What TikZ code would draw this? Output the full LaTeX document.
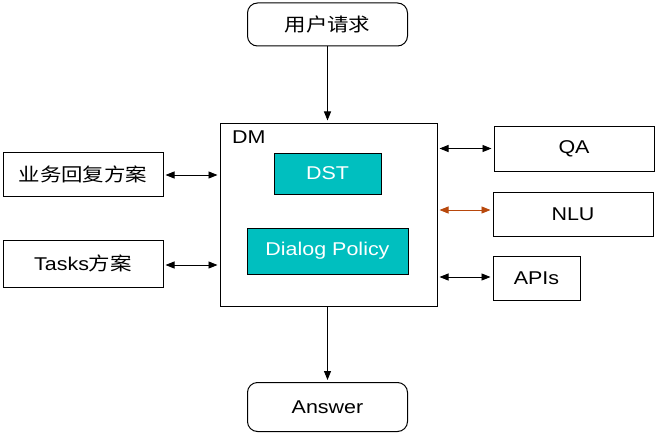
\documentclass[tikz,border=0pt]{standalone}
\usepackage{fontspec}
\usepackage{graphicx}
\setmainfont{Liberation Sans}
\newfontfamily\cjk{Noto Sans CJK SC}
\usetikzlibrary{arrows.meta}
\definecolor{teal1}{RGB}{0,191,191}
\definecolor{brownarr}{RGB}{184,72,12}
\newcommand{\wtxt}[1]{\scalebox{1.16}[1]{#1}}
\begin{document}
\begin{tikzpicture}[x=1pt,y=-1pt,
  every node/.style={font=\fontsize{18.5}{20}\selectfont},
  box/.style={draw,line width=1pt,inner sep=0pt,minimum width=#1},
  box/.default=160pt,
  rbox/.style={box,rounded corners=10pt},
  tbox/.style={draw,line width=1pt,fill=teal1,text=white,inner sep=0pt},
  tip/.style={Triangle[length=9pt,width=7pt]},
  conn/.style={line width=0.8pt,-{Triangle[length=9pt,width=7pt]}},
  biconn/.style={line width=0.8pt,{Triangle[length=9pt,width=7pt]}-{Triangle[length=9pt,width=7pt]},shorten <=2pt,shorten >=2pt}]
\useasboundingbox (0,0) rectangle (655,433);
\node[rbox,minimum height=43pt] (req) at (327.5,24.5) {\wtxt{\cjk 用户请求}};
\node[draw,line width=1pt,minimum width=217pt,minimum height=183pt,inner sep=0pt] (dm) at (328.5,214.5) {};
\node[anchor=north west,inner sep=0pt] (dml) at (232,131) {\wtxt{DM}};
\node[tbox,minimum width=107pt,minimum height=41pt] (dst) at (327.5,173.5) {\wtxt{DST}};
\node[tbox,minimum width=161pt,minimum height=46pt] (dp) at (327.5,251) {\wtxt{Dialog Policy}};
\node[box,minimum height=44pt] (biz) at (83,174) {\wtxt{\cjk 业务回复方案}};
\node[box,minimum height=47pt] (tasks) at (83,263.5) {\wtxt{Tasks{\cjk 方案}}};
\node[box,minimum height=45pt] (qa) at (574,148.5) {\wtxt{QA}};
\node[box,minimum height=44pt] (nlu) at (573,214) {\wtxt{NLU}};
\node[box=87pt,minimum height=44pt] (apis) at (536.5,278) {\wtxt{APIs}};
\node[rbox,minimum height=49pt] (ans) at (327.5,407) {\wtxt{Answer}};
\draw[conn,shorten >=2pt] (req.south) -- (req.south |- dm.north);
\draw[conn,shorten >=2pt] (dm.south -| ans.north) -- (ans.north);
\draw[biconn] ([yshift=-1pt]biz.east) -- ([yshift=-1pt]biz.east -| dm.west);
\draw[biconn] ([yshift=-1.5pt]tasks.east) -- ([yshift=-1.5pt]tasks.east -| dm.west);
\draw[biconn] (qa.west -| dm.east) -- (qa.west);
\draw[biconn,draw=brownarr,fill=brownarr] ([yshift=4pt]nlu.west -| dm.east) -- ([yshift=4pt]nlu.west);
\draw[biconn] ([yshift=1pt]apis.west -| dm.east) -- ([yshift=1pt]apis.west);
\end{tikzpicture}
\end{document}
